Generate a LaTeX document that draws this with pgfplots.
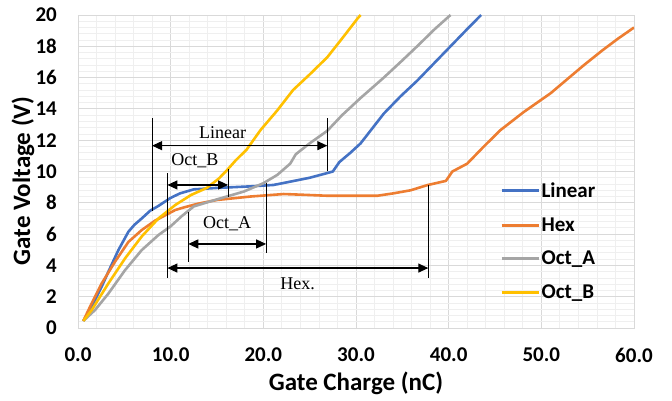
\documentclass[border=0pt]{standalone}
\usepackage{fontspec}
\setmainfont{Carlito}
\newfontfamily\timesf{Liberation Serif}
\usepackage{pgfplots}
\pgfplotsset{compat=1.18}
\usetikzlibrary{arrows.meta}
\definecolor{cLin}{HTML}{4472C4}
\definecolor{cHex}{HTML}{ED7D31}
\definecolor{cOA}{HTML}{A5A5A5}
\definecolor{cOB}{HTML}{FFC000}
\definecolor{gridmaj}{HTML}{D9D9D9}
\definecolor{gridmin}{HTML}{EFEFEF}
\begin{document}
\begin{tikzpicture}
\begin{axis}[
 scale only axis, width=556pt, height=313pt,
 xmin=0, xmax=60, ymin=0, ymax=20,
 xtick={0,10,...,60}, ytick={0,2,...,20},
 minor x tick num=4, minor y tick num=4,
 grid=both,
 major grid style={color=gridmaj, line width=0.8pt},
 minor grid style={color=gridmin, line width=0.8pt},
 axis line style={color=gridmaj, line width=0.8pt},
 tick style={draw=none},
 /pgf/number format/assume math mode=true,
 ticklabel style={font=\fontsize{21}{25}\selectfont\bfseries},
 x tick label style={anchor=north, inner sep=0pt, yshift=-20pt,
   /pgf/number format/fixed, /pgf/number format/fixed zerofill,
   /pgf/number format/precision=1},
 y tick label style={anchor=east, inner sep=0pt, xshift=-21pt},
 xlabel={Gate Charge (nC)},
 ylabel={Gate Voltage (V)},
 label style={font=\fontsize{25}{30}\selectfont\bfseries},
 xlabel style={at={(axis description cs:0.5,-0.1757)}, anchor=center},
 ylabel style={at={(axis description cs:-0.0989,0.47)}, anchor=center},
 legend style={at={(axis cs:45.2,9.52)}, anchor=north west, draw=none, fill=none,
   font=\fontsize{21}{25}\selectfont\bfseries, row sep=15.5pt,
   nodes={inner sep=1.5pt}},
 legend cell align=left,
 legend image code/.code={\draw[#1, line width=3pt] (0pt,0pt) -- (37pt,0pt);},
 every axis plot/.append style={line width=2.6pt, line join=round},
]
\addplot[cLin] coordinates {
(0.57,0.45) (1.2,1.0) (1.84,1.8) (2.6,2.7) (3.28,3.6) (4.36,4.98) (5.44,6.15)
(6.1,6.6) (6.88,7.0) (7.8,7.5) (8.68,7.8) (9.95,8.3) (11,8.6) (12.5,8.86)
(15,8.95) (18.6,9.05) (21.1,9.14) (22.9,9.35) (25,9.6) (26.9,9.9) (27.5,10.0)
(28.2,10.6) (29.4,11.2) (30.5,11.8) (33,13.7) (34.8,14.8) (36.6,15.8) (38.4,16.9)
(40.2,18.0) (42,19.1) (43.5,20.0)};
\addlegendentry{Linear}
\addplot[cHex] coordinates {
(0.57,0.45) (1.3,1.36) (2.56,2.85) (4.0,4.24) (5.44,5.5) (6.88,6.26) (8.32,6.86)
(10.5,7.54) (11.4,7.7) (13,7.95) (15,8.18) (18.6,8.4) (22.2,8.56) (24,8.52)
(26.9,8.45) (30,8.45) (32.3,8.45) (34,8.6) (35.9,8.8) (37.7,9.13) (39.7,9.4)
(40.4,10.0) (42,10.5) (43.8,11.6) (45.6,12.65) (48.1,13.8) (51,15.0) (53,16.0)
(54.6,16.8) (56.5,17.7) (58.3,18.5) (60,19.2)};
\addlegendentry{Hex}
\addplot[cOA] coordinates {
(0.57,0.45) (1.84,1.15) (3.28,2.2) (5.08,3.7) (6.88,4.98) (8.68,5.94) (10.0,6.5)
(11.2,7.15) (12.5,7.77) (15,8.22) (17.9,8.72) (20.0,9.25) (21.5,9.78) (22.9,10.5)
(23.5,11.1) (25,11.8) (26.9,12.6) (28.5,13.6) (30.5,14.7) (33,16.0) (35,17.1)
(36.6,18.0) (38.5,19.1) (40.2,20)};
\addlegendentry{Oct\_A}
\addplot[cOB] coordinates {
(0.57,0.45) (1.48,1.15) (3.28,2.85) (5.08,4.45) (6.88,5.85) (8.68,7.0) (10.5,7.86)
(12.2,8.5) (13.9,8.95) (15.2,9.55) (16.1,10.1) (17,10.7) (18.2,11.4) (19.7,12.65)
(21.5,13.9) (23.2,15.2) (25,16.2) (26.9,17.3) (28.5,18.5) (30.2,19.8) (30.5,20)};
\addlegendentry{Oct\_B}
% annotations
\begin{scope}[line width=1.2pt, black, >={Triangle[length=10pt,width=9pt]}]
\draw (axis cs:8.0,7.5) -- (axis cs:8.0,13.4);
\draw (axis cs:26.9,10.0) -- (axis cs:26.9,13.4);
\draw[<->] (axis cs:8.0,11.65) -- (axis cs:26.9,11.65);
\node[font=\timesf\fontsize{18}{22}\selectfont] at (axis cs:15.6,12.5) {Linear};
\draw (axis cs:9.65,9.9) -- (axis cs:9.65,3.2);
\draw (axis cs:16.2,10.15) -- (axis cs:16.2,8.4);
\draw[<->] (axis cs:9.65,9.14) -- (axis cs:16.2,9.14);
\node[font=\timesf\fontsize{18}{22}\selectfont] at (axis cs:12.6,10.7) {Oct\_B};
\draw (axis cs:11.9,7.4) -- (axis cs:11.9,4.2);
\draw (axis cs:20.3,9.26) -- (axis cs:20.3,4.8);
\draw[<->] (axis cs:11.9,5.37) -- (axis cs:20.3,5.37);
\node[font=\timesf\fontsize{18}{22}\selectfont] at (axis cs:16.1,6.65) {Oct\_A};
\draw (axis cs:37.8,9.14) -- (axis cs:37.8,3.2);
\draw[<->] (axis cs:9.65,3.83) -- (axis cs:37.8,3.83);
\node[font=\timesf\fontsize{18}{22}\selectfont] at (axis cs:23.7,2.85) {Hex.};
\end{scope}
\end{axis}
\path (current axis.south west) ++(-78pt,-73pt) coordinate (bl);
\path (current axis.north east) ++(38pt,15pt) coordinate (tr);
\pgfresetboundingbox
\path[use as bounding box] (bl) rectangle (tr);
\end{tikzpicture}
\end{document}
